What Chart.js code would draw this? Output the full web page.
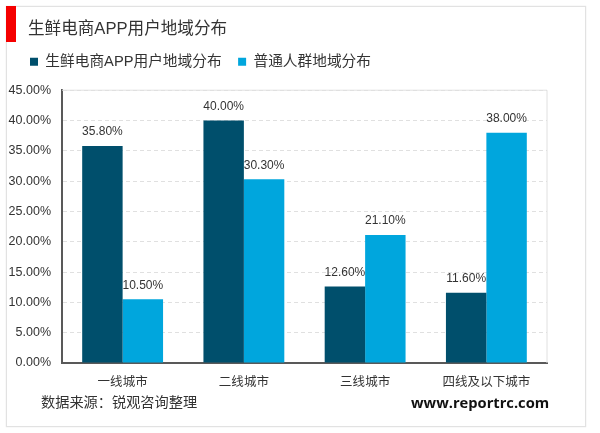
<!DOCTYPE html>
<html lang="zh">
<head>
<meta charset="utf-8">
<title>生鲜电商APP用户地域分布</title>
<script src="https://cdn.jsdelivr.net/npm/chart.js@4/dist/chart.umd.min.js"></script>
<style>
html, body { margin: 0; padding: 0; background: #fff; }
body { width: 600px; height: 433px; position: relative; overflow: hidden;
       font-family: "Liberation Sans", "Noto Sans CJK SC", sans-serif; color: #333; }
#frame { position: absolute; left: 6px; top: 6px; width: 578px; height: 419px; border: 1px solid #e2e2e2; box-shadow: 0 0 1px #ddd; }
#mark { position: absolute; left: 6px; top: 6px; width: 10px; height: 36px; background: #f50000; }
#title { position: absolute; left: 28px; top: 18px; font-size: 16.6px; line-height: 22px; white-space: nowrap; }
#source { position: absolute; left: 41px; top: 392px; font-size: 14.2px; line-height: 20px; white-space: nowrap; }
#site { position: absolute; left: 411px; top: 392px; font-size: 14.7px; line-height: 20px; font-weight: bold; font-family: "Open Sans", sans-serif; color: #111; white-space: nowrap; }
canvas { position: absolute; left: 0; top: 0; }
</style>
</head>
<body>
<div id="frame"></div>
<canvas id="grafico" width="600" height="433"></canvas>
<div id="mark"></div>
<div id="title">生鲜电商APP用户地域分布</div>
<div id="source">数据来源：锐观咨询整理</div>
<div id="site">www.reportrc.com</div>
<script>
const categorias = ["一线城市", "二线城市", "三线城市", "四线及以下城市"];
const serieApp = [35.8, 40.0, 12.6, 11.6];
const seriePessoas = [10.5, 30.3, 21.1, 38.0];
const nomeApp = "生鲜电商APP用户地域分布";
const nomePessoas = "普通人群地域分布";

const fonte = '"Liberation Sans", "Noto Sans CJK SC", sans-serif';

// rotulos em cima das barras, borda clara e ajuste da legenda
const extras = {
    id: "extras",
    beforeInit(chart) {
        const fitOriginal = chart.legend.fit;
        chart.legend.fit = function () {
            fitOriginal.call(this);
            this.height += 11;
        };
    },
    afterLayout(chart) {
        chart.legend.left = 13.5;
    },
    beforeDatasetsDraw(chart) {
        const a = chart.chartArea;
        const ctx = chart.ctx;
        ctx.save();
        ctx.strokeStyle = "#e0e0e0";
        ctx.lineWidth = 1;
        ctx.beginPath();
        ctx.moveTo(a.left, a.top);
        ctx.lineTo(a.right, a.top);
        ctx.lineTo(a.right, a.bottom);
        ctx.stroke();
        ctx.restore();
    },
    afterDatasetsDraw(chart) {
        const ctx = chart.ctx;
        ctx.save();
        ctx.font = "12px " + fonte;
        ctx.fillStyle = "#333";
        ctx.textAlign = "center";
        ctx.textBaseline = "bottom";
        chart.data.datasets.forEach((ds, i) => {
            chart.getDatasetMeta(i).data.forEach((bar, j) => {
                ctx.fillText(ds.data[j].toFixed(2) + "%", bar.x, bar.y - 8);
            });
        });
        ctx.restore();
    }
};

new Chart(document.getElementById("grafico"), {
    type: "bar",
    data: {
        labels: categorias,
        datasets: [
            { label: nomeApp, data: serieApp, backgroundColor: "#004f6c" },
            { label: nomePessoas, data: seriePessoas, backgroundColor: "#00a6dd" }
        ]
    },
    options: {
        responsive: false,
        animation: false,
        devicePixelRatio: 1,
        categoryPercentage: 0.667,
        barPercentage: 1,
        layout: { padding: { left: 0, right: 53, top: 38, bottom: 0 } },
        plugins: {
            tooltip: { enabled: false },
            legend: {
                position: "top",
                align: "start",
                labels: {
                    boxWidth: 8,
                    boxHeight: 8,
                    padding: 16.5,
                    color: "#333",
                    font: { family: fonte, size: 14.7 }
                }
            }
        },
        scales: {
            x: {
                grid: { display: false },
                border: { color: "#595959", width: 2 },
                ticks: { color: "#333", padding: 4, font: { family: fonte, size: 12.5 } },
                afterFit(scale) { scale.height = 70; }
            },
            y: {
                min: 0,
                max: 45,
                grid: { color: "#e0e0e0", drawTicks: false },
                border: { color: "#595959", width: 2, dash: [4, 3] },
                ticks: {
                    stepSize: 5,
                    color: "#333",
                    padding: 11,
                    font: { family: fonte, size: 12.5 },
                    callback: valor => valor.toFixed(2) + "%"
                },
                afterFit(scale) { scale.width = 62; }
            }
        }
    },
    plugins: [extras]
});
</script>
</body>
</html>
